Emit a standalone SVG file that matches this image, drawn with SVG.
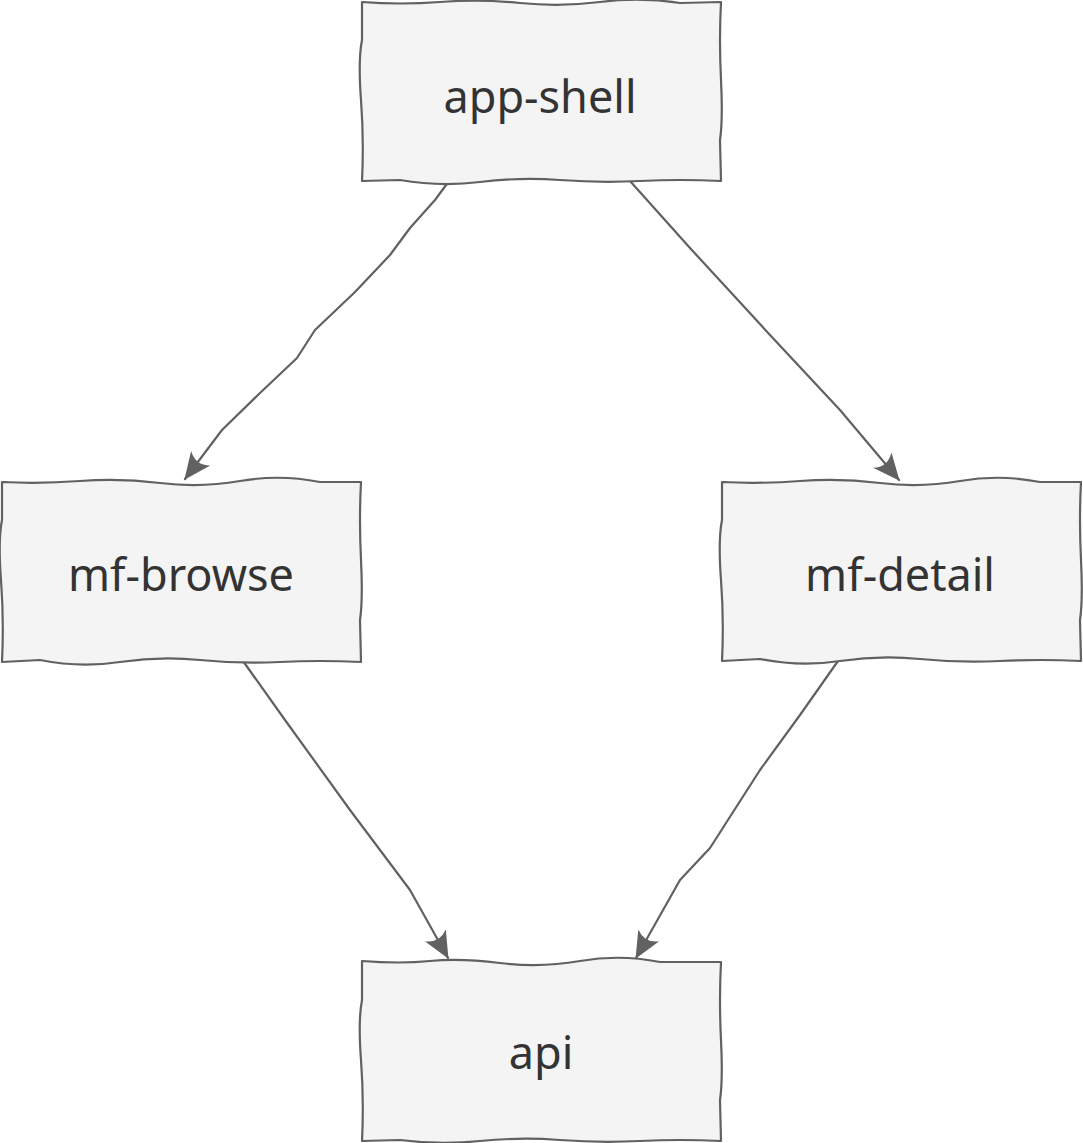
<svg xmlns="http://www.w3.org/2000/svg" width="1083" height="1143" viewBox="0 0 1083 1143">
<style>
.box{fill:#f4f4f4;stroke:#616161;stroke-width:2.2;stroke-linejoin:round}
.lbl{font-family:"Comic Sans MS","Noto Sans","DejaVu Sans",sans-serif;font-size:45px;fill:#333;text-anchor:middle}
.edge{fill:none;stroke:#616161;stroke-width:2.2;stroke-linecap:round;stroke-linejoin:round}
</style>
<defs>
<marker id="ah" viewBox="0 0 28 26" refX="26" refY="13" markerWidth="28" markerHeight="26" markerUnits="userSpaceOnUse" orient="auto">
<path d="M0,1 Q9,13 0,25 L27,13 Z" fill="#616161"/>
</marker>
</defs>
<rect width="1083" height="1143" fill="#fff"/>
<g id="edges">
<path class="edge" marker-end="url(#ah)" d="M449,181 L435,200 L410,228 L390,255 L355,292 L315,330 L297,358 L260,393 L222,430 L185,479"/>
<path class="edge" marker-end="url(#ah)" d="M630,181 L690,248 L770,335 L840,410 L899,480"/>
<path class="edge" marker-end="url(#ah)" d="M243,661 L285,720 L350,810 L410,890 L448,958"/>
<path class="edge" marker-end="url(#ah)" d="M838,661 L800,715 L760,770 L710,848 L680,880 L636,958"/>
</g>
<g id="app-shell">
<path class="box" d="M362,2 Q400,5 440,2 T520,3 T600,2 T680,3 L721,2 Q719,40 721,80 T720,140 L721,181 Q680,179 640,181 T560,180 T480,182 T400,180 L362,181 Q364,140 361,100 T362,40 Z"/>
<text class="lbl" x="540" y="113">app-shell</text>
</g>
<g id="mf-browse">
<path class="box" d="M2,482 Q40,484 80,481 T160,483 T240,481 T320,482 L361,482 Q359,520 361,560 T360,620 L361,662 Q320,660 280,662 T200,660 T120,662 T40,660 L2,662 Q4,620 1,580 T2,520 Z"/>
<text class="lbl" x="181" y="591">mf-browse</text>
</g>
<g id="mf-detail">
<path class="box" d="M722,482 Q760,484 800,481 T880,483 T960,481 T1040,482 L1081,482 Q1079,520 1081,560 T1080,620 L1081,661 Q1040,659 1000,661 T920,659 T840,661 T760,659 L722,661 Q724,620 721,580 T722,520 Z"/>
<text class="lbl" x="900" y="591">mf-detail</text>
</g>
<g id="api">
<path class="box" d="M362,961 Q400,964 430,961 T500,963 T580,961 T660,962 L721,962 Q719,1000 721,1040 T720,1100 L721,1141 Q680,1139 640,1141 T560,1140 T480,1141 T400,1140 L362,1141 Q364,1100 361,1060 T362,1000 Z"/>
<text class="lbl" x="541" y="1069">api</text>
</g>
</svg>
